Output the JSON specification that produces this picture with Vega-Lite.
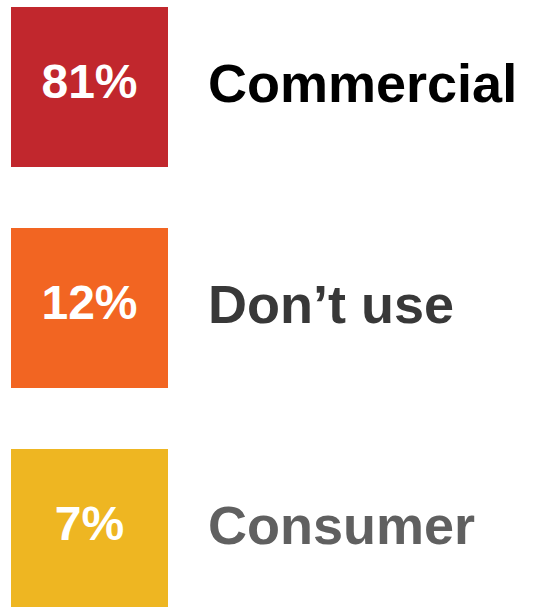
{
  "$schema": "https://vega.github.io/schema/vega-lite/v6.json",
  "width": 533,
  "height": 602,
  "autosize": "none",
  "padding": {"left": 0, "top": 7, "right": 0, "bottom": 0},
  "background": "white",
  "config": {"view": {"stroke": null}},
  "data": {
    "values": [
      {"category": "Commercial", "pct": 81},
      {"category": "Don’t use", "pct": 12},
      {"category": "Consumer", "pct": 7}
    ]
  },
  "encoding": {
    "y": {
      "field": "category",
      "type": "nominal",
      "sort": null,
      "scale": {"paddingInner": 0.276, "paddingOuter": 0},
      "axis": null
    }
  },
  "layer": [
    {
      "mark": {"type": "bar"},
      "encoding": {
        "x": {"datum": 11, "type": "quantitative", "scale": {"domain": [0, 533], "nice": false, "zero": false}, "axis": null},
        "x2": {"datum": 168},
        "color": {
          "field": "category",
          "type": "nominal",
          "sort": null,
          "scale": {"domain": ["Commercial", "Don’t use", "Consumer"], "range": ["#C1272D", "#F26522", "#EEB622"]},
          "legend": null
        }
      }
    },
    {
      "transform": [{"calculate": "datum.pct + '%'", "as": "lbl"}],
      "mark": {"type": "text", "font": "Liberation Sans", "fontWeight": "bold", "fontSize": 48, "fill": "white", "align": "center", "baseline": "middle", "dy": -3},
      "encoding": {
        "x": {"datum": 89.5, "type": "quantitative"},
        "text": {"field": "lbl", "type": "nominal"}
      }
    },
    {
      "mark": {"type": "text", "font": "Liberation Sans", "fontWeight": "bold", "fontSize": 54, "align": "left", "baseline": "middle", "dy": -1},
      "encoding": {
        "x": {"datum": 208, "type": "quantitative"},
        "text": {"field": "category", "type": "nominal"},
        "color": {
          "field": "category",
          "type": "nominal",
          "sort": null,
          "scale": {"domain": ["Commercial", "Don’t use", "Consumer"], "range": ["#000000", "#383838", "#606060"]},
          "legend": null
        }
      }
    }
  ],
  "resolve": {"scale": {"color": "independent"}}
}
